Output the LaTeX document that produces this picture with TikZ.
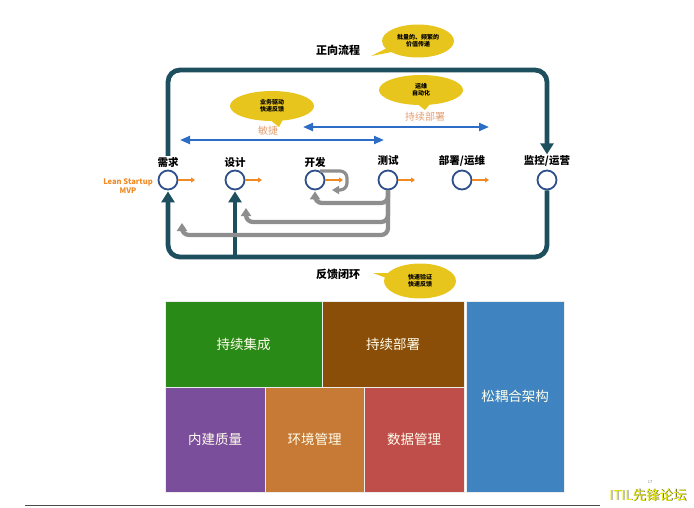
\documentclass[tikz,border=0pt]{standalone}
\usepackage{fontspec}
\setmainfont{Noto Sans CJK SC}
\usetikzlibrary{arrows.meta,shapes.callouts}
\definecolor{loopteal}{HTML}{1E4F5E}
\definecolor{ringblue}{HTML}{2F4F8C}
\definecolor{tickorange}{HTML}{F08A24}
\definecolor{spanblue}{HTML}{2D6DC5}
\definecolor{tagorange}{HTML}{E2A072}
\definecolor{bubble}{HTML}{E8C51C}
\definecolor{backgray}{HTML}{8E8E8E}
\definecolor{cigreen}{HTML}{2A8A17}
\definecolor{cdbrown}{HTML}{8A4E08}
\definecolor{archblue}{HTML}{3F84C0}
\definecolor{qpurple}{HTML}{7B4E9C}
\definecolor{envorange}{HTML}{C67A36}
\definecolor{datared}{HTML}{BF4E4B}
\definecolor{brandyellow}{HTML}{F2F200}

\begin{document}
\begin{tikzpicture}[x=1pt,y=-1pt,
  stage/.style={circle,draw=ringblue,line width=1.8pt,fill=white,minimum size=19pt,inner sep=0pt},
  stagelabel/.style={font=\fontsize{10.5}{12}\selectfont\bfseries,inner sep=1pt},
  heading/.style={font=\fontsize{11}{13}\selectfont\bfseries},
  tick/.style={draw=tickorange,line width=1.8pt,-{Triangle[length=4pt,width=5pt]}},
  loopline/.style={draw=loopteal,line width=4.8pt,rounded corners=12pt},
  loophead/.style={-{Triangle[length=11pt,width=13pt]}},
  backline/.style={draw=backgray,line width=4.3pt,rounded corners=7pt,-{Triangle[length=8pt,width=10pt]}},
  span/.style={draw=spanblue,line width=2.2pt,{Triangle[length=10pt,width=8pt]}-{Triangle[length=10pt,width=8pt]}},
  tag/.style={text=tagorange,font=\fontsize{10}{12}\selectfont},
  note/.style={ellipse callout,fill=bubble,align=center,font=\fontsize{6}{7}\selectfont\bfseries,inner sep=0pt,minimum width=80pt,minimum height=30pt},
  block/.style={draw=white!85!gray,line width=0.8pt,fill=#1,text=white!92!yellow,font=\fontsize{13.5}{16}\selectfont,inner sep=0pt}
]
\useasboundingbox (0,0) rectangle (694,507);

\node[stage] (req) at (168,180) {};
\node[stage] (des) at (235,180) {};
\node[stage] (dev) at (315,180) {};
\node[stage] (test) at (388,180) {};
\node[stage] (ops) at (462,180) {};
\node[stage] (mon) at (547,180) {};

\node[stagelabel] (reqlab) at (168,162) {需求};
\node[stagelabel] (deslab) at (235,163) {设计};
\node[stagelabel] (devlab) at (315,162) {开发};
\node[stagelabel] (testlab) at (388,161) {测试};
\node[stagelabel] (opslab) at (462,161) {部署/运维};
\node[stagelabel] (monlab) at (547,161) {监控/运营};

\node[align=center,text=tickorange,font=\fontsize{7.6}{9.5}\selectfont\bfseries] (mvp) at (128,186) {Lean Startup\\MVP};

% forward and feedback loops
\draw[loopline,loophead] (reqlab.north) -- (168,70) -- (547,70) -- (monlab.north);
\draw[loopline,loophead,shorten >=1pt] (mon.south) -- (547,257) -- (168,257) -- (req.south);
\coordinate (fork) at (235,257);
\draw[loopline,loophead,rounded corners=0pt,shorten >=1pt] (fork) -- (des.south);

\coordinate (devback) at (315,203);
\coordinate (desback) at (246,222);
\coordinate (desbacktip) at (246,208);
\coordinate (reqback) at (182,235);
\coordinate (reqbacktip) at (182,223);
\draw[backline] (test.south) |- (reqback) -- (reqbacktip);
\draw[backline] (test.south) |- (desback) -- (desbacktip);
\draw[backline,shorten >=1pt] (test.south) |- (devback) -- (dev.south);

\coordinate (selfturn) at (347,190);
\coordinate (selfend) at (332,190);
\draw[backline,line width=3.2pt,-{Triangle[length=7pt,width=8pt]}] (dev.60) -| (selfturn) -- (selfend);

\coordinate (reqtip) at (195,180);
\coordinate (destip) at (262,180);
\coordinate (devtip) at (343,180);
\coordinate (testtip) at (415,180);
\coordinate (opstip) at (489,180);
\draw[tick] (req) -- (reqtip);
\draw[tick] (des) -- (destip);
\draw[tick] (dev) -- (devtip);
\draw[tick] (test) -- (testtip);
\draw[tick] (ops) -- (opstip);

\coordinate (agileL) at (180,140);
\coordinate (agileR) at (384,140);
\coordinate (cdL) at (303,127);
\coordinate (cdR) at (489,127);
\draw[span] (agileL) -- (agileR);
\draw[span] (cdL) -- (cdR);
\node[tag] (agiletag) at (268,131) {敏捷};
\node[tag] (cdtag) at (425,117) {持续部署};

\node[heading] (fwd) at (338,50) {正向流程};
\node[heading] (fb) at (338,274) {反馈闭环};

\node[note,minimum width=84pt,callout absolute pointer={(279,127)}] (bizbubble) at (272,106) {业务驱动\\快速反馈};
\node[note,minimum width=84pt,callout absolute pointer={(425,110)}] (opsbubble) at (421,90) {运维\\自动化};
\node[note,minimum width=72pt,minimum height=33pt,callout absolute pointer={(371,56)}] (valbubble) at (418,41) {批量的、频繁的\\价值传递};
\node[note,minimum width=72pt,minimum height=35pt,callout absolute pointer={(373,273)}] (fastbubble) at (420,281) {快速验证\\快速反馈};

% capability blocks
\node[block=cigreen,minimum width=157pt,minimum height=86pt] (ci) at (243.5,344) {持续集成};
\node[block=cdbrown,minimum width=142pt,minimum height=86pt] (cd) at (393,344) {持续部署};
\node[block=archblue,minimum width=98pt,minimum height=191pt] (arch) at (515,396.5) {松耦合架构};
\node[block=qpurple,minimum width=100pt,minimum height=105pt] (quality) at (215,439.5) {内建质量};
\node[block=envorange,minimum width=99pt,minimum height=105pt] (env) at (314.5,439.5) {环境管理};
\node[block=datared,minimum width=100pt,minimum height=105pt] (data) at (414,439.5) {数据管理};

\draw[gray!60!black,line width=1pt] (25,505.5) -- (600,505.5);
\node[text=gray,font=\fontsize{4}{4}\selectfont] (pageno) at (650,482) {17};
\node[text=black!70,font=\fontsize{13.5}{15}\selectfont] at (648.6,495.6) {ITIL先锋论坛};
\node[text=brandyellow,font=\fontsize{13.5}{15}\selectfont] (brand) at (648,495) {ITIL先锋论坛};
\end{tikzpicture}
\end{document}
